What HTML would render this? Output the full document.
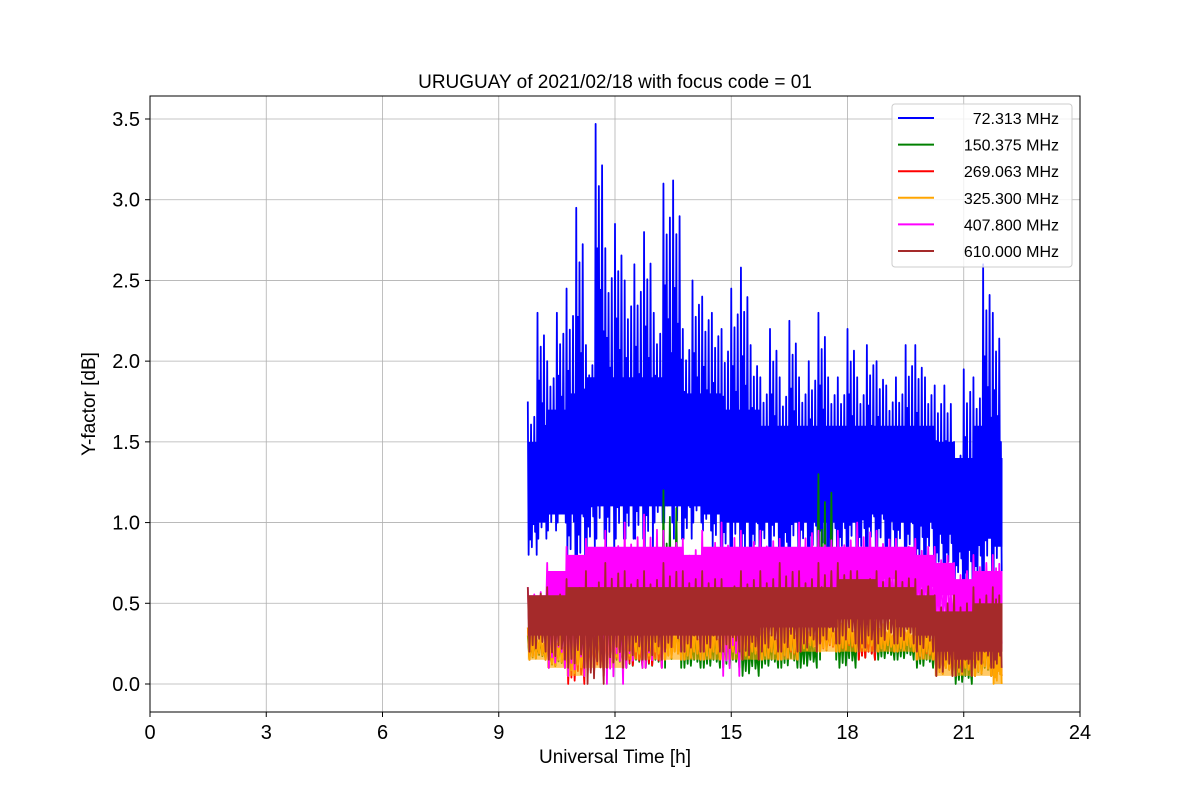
<!DOCTYPE html>
<html><head><meta charset="utf-8"><style>
html,body{margin:0;padding:0;background:#fff;}
svg{display:block;font-family:"Liberation Sans","DejaVu Sans",sans-serif;}
</style></head><body>
<svg id="chart" width="1200" height="800">
<rect width="1200" height="800" fill="#fff"/>
<text x="615" y="88" text-anchor="middle" font-size="19">URUGUAY of 2021/02/18 with focus code = 01</text>
<g id="grid"></g>
<g id="series"></g>
<rect x="150" y="96" width="930" height="616" fill="none" stroke="#000" stroke-width="1"/>
<g id="ticks"></g>
<text x="615" y="763" text-anchor="middle" font-size="19">Universal Time [h]</text>
<text transform="translate(95,404) rotate(-90)" text-anchor="middle" font-size="19">Y-factor [dB]</text>
<g id="legend"></g>
</svg>
<script>
const xTicks=[0,3,6,9,12,15,18,21,24];
const yTicks=[0,0.5,1,1.5,2,2.5,3,3.5];
const yTickLabels=["0.0","0.5","1.0","1.5","2.0","2.5","3.0","3.5"];
const seriesNames=["72.313 MHz","150.375 MHz","269.063 MHz","325.300 MHz","407.800 MHz","610.000 MHz"];
const seriesColors=["#0000ff","#008000","#ff0000","#ffa500","#ff00ff","#a52a2a"];
const blueTimes=[9.75,10,10.25,10.5,10.75,11,11.25,11.5,11.75,12,12.25,12.5,12.75,13,13.25,13.5,13.75,14,14.25,14.5,14.75,15,15.25,15.5,15.75,16,16.25,16.5,16.75,17,17.25,17.5,17.75,18,18.25,18.5,18.75,19,19.25,19.5,19.75,20,20.25,20.5,20.75,21,21.25,21.5,21.75];
const blueMax=[1.75,2.3,2.0,2.3,2.45,2.95,2.1,3.47,2.7,2.85,2.5,2.6,2.8,2.3,3.1,3.12,2.2,2.5,2.4,2.3,2.2,2.45,2.58,2.1,1.9,2.2,1.9,2.25,1.9,2.0,2.3,1.9,1.9,2.2,1.9,2.1,2.0,1.85,1.9,2.1,2.1,1.9,1.85,1.85,1.5,1.95,1.9,2.6,2.3];
const blueMin=[0.8,0.9,0.95,1.0,0.75,0.7,0.85,0.9,0.85,0.9,0.9,0.9,0.85,1.0,1.0,0.9,0.9,1.0,0.95,0.85,0.8,0.85,0.75,0.8,0.85,0.85,0.7,0.85,0.85,0.8,0.8,0.8,0.8,0.85,0.8,0.85,0.85,0.8,0.85,0.8,0.7,0.8,0.7,0.7,0.65,0.55,0.6,0.7,0.7];
const lowTimes=[9.75,10.25,10.75,11.25,11.75,12.25,12.75,13.25,13.75,14.25,14.75,15.25,15.75,16.25,16.75,17.25,17.75,18.25,18.75,19.25,19.75,20.25,20.75,21.25,21.75];
const blueCoreHi=[1.5,1.7,1.8,1.9,1.9,1.9,1.9,2.0,1.8,1.8,1.7,1.7,1.6,1.6,1.6,1.6,1.6,1.6,1.6,1.6,1.6,1.5,1.4,1.6,1.4];
const blueCoreLo=[1.0,1.05,1.05,1.1,1.1,1.1,1.1,1.1,1.1,1.05,1.0,1.0,1.0,1.0,1.0,1.0,1.0,1.05,1.05,1.0,1.0,0.95,0.9,0.9,0.85];
const greenMax=[0.3,0.3,0.35,0.35,0.35,0.35,0.35,1.2,0.35,0.35,0.35,0.35,0.35,0.4,0.35,1.3,0.4,0.4,0.35,0.35,0.35,0.3,0.25,0.3,0.3];
const greenMin=[0.15,0.1,0.1,0.1,0.1,0.1,0.1,0.1,0.1,0.1,0.1,0.05,0.1,0.1,0.1,0.15,0.1,0.15,0.15,0.15,0.1,0.05,0.0,0.05,0.05];
const redMax=[0.35,0.35,0.4,0.4,0.4,0.4,0.4,0.4,0.4,0.4,0.4,0.4,0.4,0.4,0.4,0.4,0.4,0.4,0.4,0.4,0.35,0.3,0.3,0.35,0.35];
const redMin=[0.15,0.1,0.0,0.05,0.1,0.1,0.1,0.15,0.15,0.15,0.15,0.15,0.15,0.15,0.2,0.2,0.2,0.15,0.2,0.2,0.15,0.05,0.05,0.05,0.05];
const orangeMax=[0.35,0.35,0.4,0.4,0.45,0.4,0.4,0.4,0.4,0.4,0.4,0.4,0.4,0.45,0.4,0.45,0.45,0.45,0.4,0.4,0.4,0.3,0.3,0.35,0.4];
const orangeMin=[0.15,0.1,0.05,0.1,0.1,0.15,0.15,0.15,0.15,0.15,0.15,0.15,0.15,0.15,0.2,0.2,0.2,0.2,0.2,0.2,0.15,0.05,0.05,0.05,0.0];
const magentaMax=[0.6,0.75,0.85,0.9,0.95,1.0,1.05,0.95,0.9,0.95,1.0,0.95,0.95,0.9,1.0,0.95,0.95,1.0,0.95,0.9,0.9,0.85,0.75,0.8,0.8];
const magentaMin=[0.3,0.1,0.05,0.05,0.0,0.1,0.1,0.2,0.2,0.2,0.05,0.25,0.3,0.3,0.35,0.35,0.35,0.4,0.4,0.4,0.4,0.3,0.25,0.3,0.25];
const magentaCoreHi=[0.55,0.7,0.8,0.85,0.85,0.85,0.85,0.85,0.8,0.85,0.85,0.85,0.85,0.85,0.85,0.85,0.85,0.85,0.85,0.85,0.8,0.75,0.65,0.7,0.7];
const magentaCoreLo=[0.4,0.45,0.5,0.5,0.5,0.55,0.55,0.55,0.55,0.55,0.55,0.55,0.6,0.6,0.6,0.6,0.6,0.65,0.65,0.6,0.6,0.55,0.45,0.5,0.5];
const brownMax=[0.6,0.6,0.65,0.7,0.75,0.7,0.7,0.75,0.7,0.7,0.65,0.7,0.7,0.75,0.7,0.75,0.75,0.7,0.7,0.7,0.65,0.55,0.55,0.6,0.6];
const brownMin=[0.2,0.15,0.1,0.0,0.1,0.15,0.15,0.2,0.2,0.2,0.2,0.15,0.2,0.2,0.2,0.25,0.25,0.2,0.25,0.25,0.2,0.05,0.05,0.1,0.1];
const brownCoreHi=[0.55,0.55,0.6,0.6,0.6,0.6,0.6,0.6,0.6,0.6,0.6,0.6,0.6,0.6,0.6,0.6,0.65,0.65,0.6,0.6,0.55,0.45,0.45,0.5,0.5];
const brownCoreLo=[0.3,0.3,0.3,0.3,0.3,0.3,0.3,0.3,0.3,0.3,0.3,0.3,0.35,0.35,0.35,0.35,0.4,0.4,0.4,0.35,0.3,0.2,0.15,0.2,0.2];
const T_END=22.0;

const X0=150,X1=1080,XMAX=24,Y0=684,PPU=(684-119)/3.5;
const xs=h=>X0+(X1-X0)*h/XMAX;
const ys=v=>Y0-v*PPU;
const NS="http://www.w3.org/2000/svg";
const PATTERN=[1,0,0.7,0.1,0.85,0.05,0.6,0.2,0.9,0.15,0.5,0.0];
function mk(tag,attrs,parent){const e=document.createElementNS(NS,tag);for(const k in attrs)e.setAttribute(k,attrs[k]);parent.appendChild(e);return e;}
const grid=document.getElementById('grid'),ticks=document.getElementById('ticks'),ser=document.getElementById('series'),leg=document.getElementById('legend');
xTicks.forEach(t=>{
  const gl=mk('line',{x1:xs(t),x2:xs(t),y1:96,y2:712,stroke:'#b0b0b0','stroke-width':0.8},grid);
  
  mk('line',{x1:xs(t),x2:xs(t),y1:712,y2:717,stroke:'#000'},ticks);
  const tx=mk('text',{x:xs(t),y:739,'text-anchor':'middle','font-size':20},ticks);
  tx.textContent=t;
  
  
});
yTicks.forEach((t,i)=>{
  const gl=mk('line',{x1:150,x2:1080,y1:ys(t),y2:ys(t),stroke:'#b0b0b0','stroke-width':0.8},grid);
  
  mk('line',{x1:145,x2:150,y1:ys(t),y2:ys(t),stroke:'#000'},ticks);
  const tx=mk('text',{x:140,y:ys(t)+7,'text-anchor':'end','font-size':20},ticks);
  tx.textContent=yTickLabels[i];
  
  
});
function band(times,hi,lo,color,name,op){
  const top=[],bot=[];
  for(let i=0;i<times.length;i++){
    const step=i<times.length-1?times[i+1]-times[i]:T_END-times[i];
    const xa=xs(times[i]),xb=xs(Math.min(times[i]+step,T_END));
    top.push([xa,ys(hi[i])],[xb,ys(hi[i])]);
    bot.push([xa,ys(lo[i])],[xb,ys(lo[i])]);
  }
  const pts=top.concat(bot.reverse());
  const p=mk('polygon',{points:pts.map(q=>q.join(',')).join(' '),fill:color,'fill-opacity':op},ser);
  
  
}
function zig(times,mx,mn,color,name){
  let pts=[];
  const N=PATTERN.length;
  for(let i=0;i<times.length;i++){
    const step=i<times.length-1?times[i+1]-times[i]:T_END-times[i];
    for(let k=0;k<N;k++){
      const t=Math.min(times[i]+step*k/N,T_END);
      pts.push([xs(t),ys(mn[i]+PATTERN[k]*(mx[i]-mn[i]))]);
    }
  }
  const p=mk('polyline',{points:pts.map(q=>q.join(',')).join(' '),fill:'none',stroke:color,'stroke-width':1.8,'stroke-linejoin':'round'},ser);
  
  
}
zig(blueTimes,blueMax,blueMin,seriesColors[0],'series-72mhz');
band(lowTimes,blueCoreHi,blueCoreLo,seriesColors[0],'series-72mhz-core',1);
zig(lowTimes,greenMax,greenMin,seriesColors[1],'series-150mhz');
zig(lowTimes,redMax,redMin,seriesColors[2],'series-269mhz');
zig(lowTimes,orangeMax,orangeMin,seriesColors[3],'series-325mhz');
band(lowTimes,orangeMax,orangeMin,seriesColors[3],'series-325mhz-core',0.6);
zig(lowTimes,magentaMax,magentaMin,seriesColors[4],'series-407mhz');
band(lowTimes,magentaCoreHi,magentaCoreLo,seriesColors[4],'series-407mhz-core',1);
zig(lowTimes,brownMax,brownMin,seriesColors[5],'series-610mhz');
band(lowTimes,brownCoreHi,brownCoreLo,seriesColors[5],'series-610mhz-core',1);
const lb=mk('rect',{x:892,y:104,width:180,height:163,rx:3,fill:'#fff','fill-opacity':0.8,stroke:'#ccc'},leg);

seriesNames.forEach((n,i)=>{
  const y=118+i*26.6;
  const l=mk('line',{x1:898,x2:934,y1:y,y2:y,stroke:seriesColors[i],'stroke-width':2},leg);
  
  const t=mk('text',{x:1059,y:y+6,'text-anchor':'end','font-size':16},leg);
  t.textContent=n;
  
  
});
</script>
</body></html>
